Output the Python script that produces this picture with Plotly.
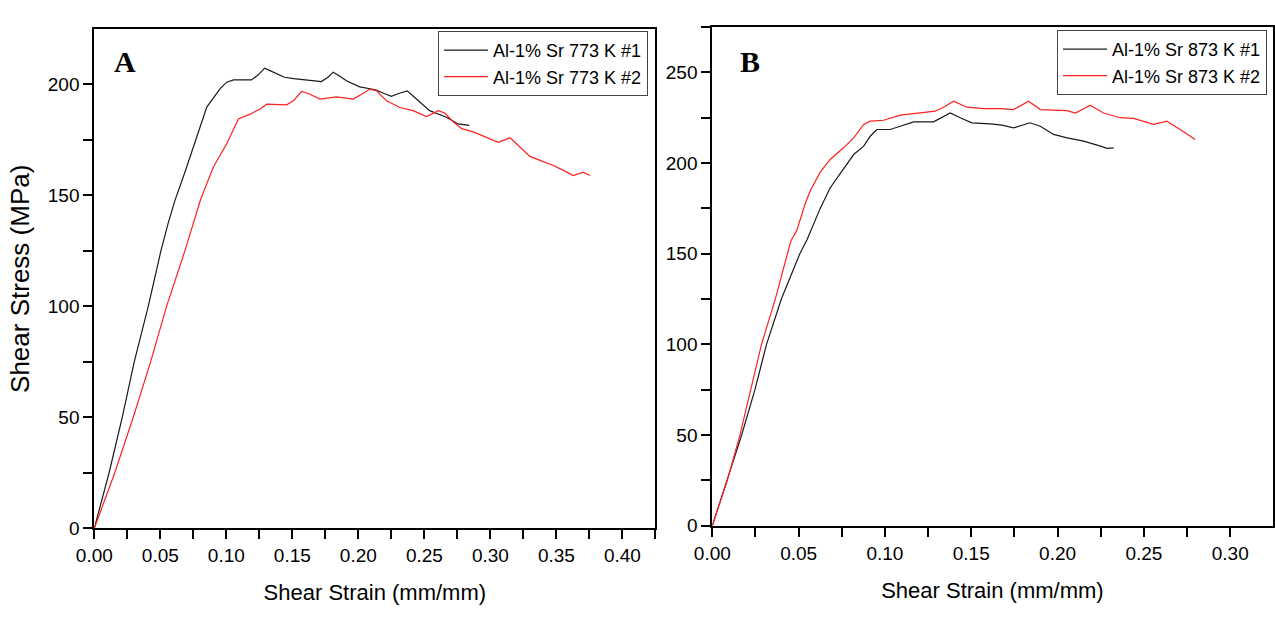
import plotly.graph_objects as go

# Shear tests of Al-1% Sr, panel A: 773 K
strain_773_1 = [0, 0.0112, 0.0212, 0.0303, 0.0409, 0.0505, 0.0558, 0.0611, 0.0685, 0.0751,
                0.0805, 0.0852, 0.0905, 0.0955, 0.1003, 0.1054, 0.112, 0.119, 0.124, 0.129,
                0.133, 0.138, 0.144, 0.151, 0.161, 0.172, 0.177, 0.181, 0.186, 0.191,
                0.201, 0.213, 0.220, 0.225, 0.231, 0.237, 0.244, 0.254, 0.2667, 0.2756, 0.284]
stress_773_1 = [0, 25, 50, 75, 100, 125, 137, 147.6, 160, 171.7,
                182, 189.6, 194, 198, 200.8, 201.8, 201.8, 201.8, 204, 207.1,
                206, 204.6, 203, 202.4, 201.9, 201.1, 203, 205.3, 203.5, 201.4,
                198.7, 197.4, 195.6, 194.4, 195.8, 196.9, 193.2, 188, 185, 182, 181.4]

strain_773_2 = [0, 0.0155, 0.0295, 0.0427, 0.0548, 0.0687, 0.0805, 0.0902, 0.1003, 0.1092,
                0.118, 0.1256, 0.1306, 0.1457, 0.1508, 0.157, 0.162, 0.171, 0.1835, 0.196,
                0.2025, 0.2088, 0.2138, 0.2214, 0.2315, 0.2415, 0.2516, 0.2607, 0.2657, 0.272,
                0.2783, 0.2871, 0.296, 0.306, 0.3149, 0.3237, 0.33, 0.3376, 0.3477, 0.3553,
                0.3628, 0.3704, 0.3755]
stress_773_2 = [0, 25, 50, 75, 100, 125, 148, 162.6, 173.1, 184.2,
                186.4, 188.7, 190.9, 190.6, 192.4, 196.6, 195.7, 193.2, 194.2, 193.2,
                195.4, 197.7, 196.9, 192.4, 189.4, 188.0, 185.3, 188.0, 186.8, 182.9,
                179.9, 178.4, 176.2, 173.7, 175.8, 170.9, 167.4, 165.6, 163.3, 161.1,
                158.8, 160.3, 158.8]

# Panel B: 873 K
strain_873_1 = [0, 0.0087, 0.017, 0.0247, 0.0314, 0.040, 0.0507, 0.055, 0.058, 0.0625,
                0.0683, 0.076, 0.0819, 0.0877, 0.0915, 0.0953, 0.103, 0.1089, 0.1166, 0.1282,
                0.132, 0.1378, 0.1436, 0.1503, 0.161, 0.1678, 0.1745, 0.1841, 0.19, 0.1977,
                0.2055, 0.2151, 0.2249, 0.2287, 0.2325]
stress_873_1 = [0, 25, 50, 75, 100, 125, 150, 158, 165, 175,
                186.4, 197.0, 204.7, 209.3, 214.8, 218.5, 218.5, 220.3, 222.7, 222.7,
                224.6, 227.6, 225.0, 222.2, 221.6, 220.9, 219.4, 222.2, 220.3, 215.8,
                213.9, 212.1, 209.3, 208.1, 208.4]

strain_873_2 = [0, 0.0087, 0.016, 0.0222, 0.0285, 0.0365, 0.0434, 0.0455, 0.049, 0.0536,
                0.0567, 0.0625, 0.0683, 0.076, 0.0819, 0.0877, 0.0915, 0.0992, 0.1089, 0.1185,
                0.1291, 0.1345, 0.1397, 0.1475, 0.1571, 0.1668, 0.1745, 0.1832, 0.1901, 0.2055,
                0.2103, 0.2189, 0.2266, 0.2362, 0.244, 0.2556, 0.2633, 0.271, 0.2797]
stress_873_2 = [0, 25, 50, 75, 100, 125, 150, 157, 163, 177,
                184.6, 195, 202.0, 208.4, 213.9, 221.3, 223.1, 223.6, 226.4, 227.6,
                228.6, 231, 234.1, 230.8, 230.0, 230.0, 229.5, 234.1, 229.5, 228.9,
                227.6, 231.9, 227.6, 225.0, 224.6, 221.3, 223.1, 218.5, 213.0]

names_a = ["Al-1% Sr 773 K #1", "Al-1% Sr 773 K #2"]
names_b = ["Al-1% Sr 873 K #1", "Al-1% Sr 873 K #2"]

W, H = 1275, 620
SANS = "Liberation Sans, Arial"
SERIF = "Liberation Serif, Times New Roman"

fig = go.Figure()
fig.add_trace(go.Scatter(x=strain_773_1, y=stress_773_1, mode="lines", name=names_a[0],
                         line=dict(color="#1a1a1a", width=1.2), legend="legend"))
fig.add_trace(go.Scatter(x=strain_773_2, y=stress_773_2, mode="lines", name=names_a[1],
                         line=dict(color="#ff2020", width=1.2), legend="legend"))
fig.add_trace(go.Scatter(x=strain_873_1, y=stress_873_1, mode="lines", name=names_b[0],
                         line=dict(color="#1a1a1a", width=1.2), xaxis="x2", yaxis="y2",
                         legend="legend2"))
fig.add_trace(go.Scatter(x=strain_873_2, y=stress_873_2, mode="lines", name=names_b[1],
                         line=dict(color="#ff2020", width=1.2), xaxis="x2", yaxis="y2",
                         legend="legend2"))


def px_x(p):
    return p / W


def px_y(p):
    return 1 - p / H


tick_font = dict(family=SANS, size=19, color="black")
axis_common = dict(showline=True, linecolor="black", linewidth=2, mirror=True,
                   ticks="outside", ticklen=9, tickwidth=1.6, tickcolor="black",
                   showgrid=False, zeroline=False, tickfont=tick_font, automargin=False)
minor_ticks = dict(ticks="outside", ticklen=9, tickwidth=1.6, tickcolor="black")
xtitle_font = dict(family=SANS, size=22, color="black")
legend_style = dict(xanchor="left", yanchor="top", bgcolor="white", bordercolor="#444",
                    borderwidth=1, font=dict(family=SANS, size=18, color="black"),
                    tracegroupgap=0, itemwidth=44)

fig.update_layout(
    width=W, height=H, margin=dict(l=0, r=0, t=0, b=0, autoexpand=False),
    paper_bgcolor="white", plot_bgcolor="white",
    xaxis=dict(domain=[px_x(94.3), px_x(655.4)], range=[0, 0.425], dtick=0.05,
               tickformat=".2f", anchor="y", minor=dict(dtick=0.025, **minor_ticks),
               title=dict(text="Shear Strain (mm/mm)", standoff=20, font=xtitle_font),
               **axis_common),
    yaxis=dict(domain=[px_y(528.3), px_y(29.3)], range=[0, 224.6], dtick=50,
               anchor="x", minor=dict(dtick=25, **minor_ticks),
               title=dict(text="Shear Stress (MPa)", standoff=11,
                          font=dict(family=SANS, size=26, color="black")),
               **axis_common),
    xaxis2=dict(domain=[px_x(712.3), px_x(1272.5)], range=[0, 0.3245], dtick=0.05,
                tickformat=".2f", anchor="y2", minor=dict(dtick=0.025, **minor_ticks),
                title=dict(text="Shear Strain (mm/mm)", standoff=20, font=xtitle_font),
                **axis_common),
    yaxis2=dict(domain=[px_y(525.7), px_y(26.7)], range=[0, 275.2], dtick=50,
                anchor="x2", minor=dict(dtick=25, **minor_ticks),
                **axis_common),
    legend=dict(x=px_x(438), y=px_y(31), **legend_style),
    legend2=dict(x=px_x(1057), y=px_y(30), **legend_style),
    annotations=[
        dict(text="<b>A</b>", x=px_x(125.2), y=px_y(61.7), xref="paper", yref="paper",
             xanchor="center", yanchor="middle", showarrow=False,
             font=dict(family=SERIF, size=30, color="black")),
        dict(text="<b>B</b>", x=px_x(750), y=px_y(61.7), xref="paper", yref="paper",
             xanchor="center", yanchor="middle", showarrow=False,
             font=dict(family=SERIF, size=30, color="black")),
    ],
    showlegend=True,
)

fig.write_html("out.html")
